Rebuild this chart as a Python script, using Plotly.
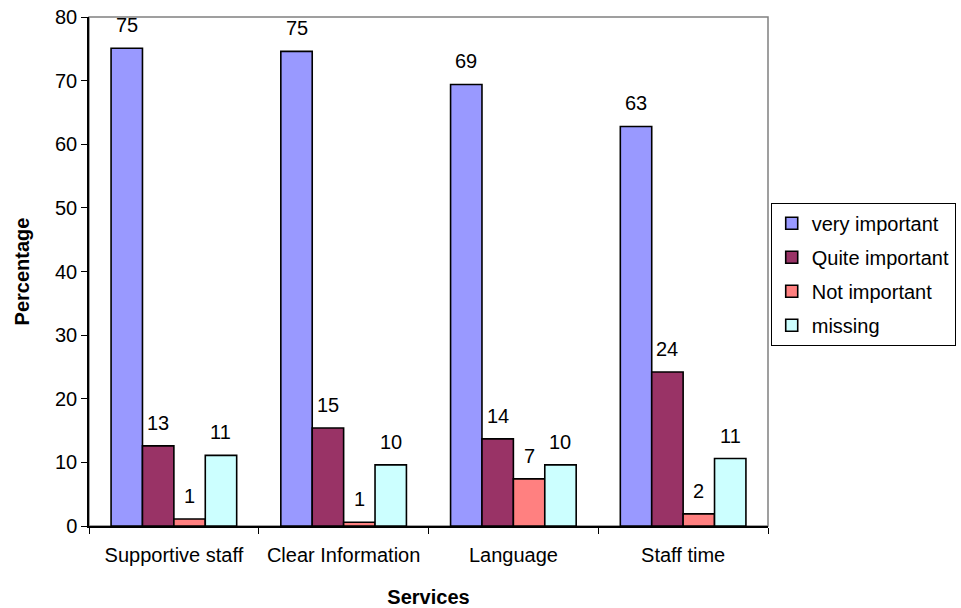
import plotly.graph_objects as go

categories = ["Supportive staff", "Clear Information", "Language", "Staff time"]
series_names = ["very important", "Quite important", "Not important", "missing"]
very_important = [75.1, 74.6, 69.4, 62.8]
quite_important = [12.6, 15.4, 13.7, 24.2]
not_important = [1.1, 0.6, 7.4, 1.9]
missing = [11.1, 9.6, 9.6, 10.6]
colors = ["#9999FF", "#993366", "#FF8080", "#CCFFFF"]
y_ticks = [0, 10, 20, 30, 40, 50, 60, 70, 80]

series_values = [very_important, quite_important, not_important, missing]

FONT = "Liberation Sans, Arial, sans-serif"
FS = 20
BARGAP = 0.26
n_series = len(series_values)
bar_w = (1 - BARGAP) / n_series

fig = go.Figure()
for k, (name, vals, col) in enumerate(zip(series_names, series_values, colors)):
    fig.add_trace(go.Bar(
        x=categories, y=vals, name=name,
        marker=dict(color=col, line=dict(color="#000000", width=1.6)),
        legendgroup=name,
        hoverinfo="x+y+name",
    ))
    # value labels above each bar, rounded to whole percent
    for i, v in enumerate(vals):
        fig.add_annotation(
            x=i + (k - (n_series - 1) / 2) * bar_w, y=v,
            xref="x", yref="y",
            text=str(int(v + 0.5)), showarrow=False,
            yanchor="bottom", yshift=10,
            font=dict(family=FONT, size=FS, color="#000000"),
        )

# plot-area frame (top and right edges in grey)
fig.add_shape(type="rect", xref="paper", yref="paper", x0=0, y0=0, x1=1, y1=1,
              line=dict(color="#808080", width=1.5), layer="below")

fig.update_layout(
    width=961, height=608,
    margin=dict(l=89, r=193, t=17, b=82, autoexpand=False),
    paper_bgcolor="#FFFFFF", plot_bgcolor="#FFFFFF",
    barmode="group", bargap=BARGAP, bargroupgap=0,
    font=dict(family=FONT, size=FS, color="#000000"),
    showlegend=True,
    legend=dict(
        x=1.004, xanchor="left", y=0.635, yanchor="top",
        bordercolor="#000000", borderwidth=1, bgcolor="#FFFFFF",
        font=dict(family=FONT, size=FS, color="#000000"),
        tracegroupgap=5,
    ),
    xaxis=dict(
        type="category", showgrid=False, zeroline=False, automargin=False,
        showline=True, linecolor="#000000", linewidth=1.5,
        ticks="outside", tickson="boundaries", ticklen=6, tickcolor="#000000",
        ticklabelstandoff=10,
        tickfont=dict(family=FONT, size=FS),
        title=dict(text="<b>Services</b>", font=dict(family=FONT, size=FS), standoff=25),
    ),
    yaxis=dict(
        range=[0, 80], tickvals=y_ticks, showgrid=False, zeroline=False, automargin=False,
        showline=True, linecolor="#000000", linewidth=1.5,
        ticks="outside", ticklen=6, tickcolor="#000000",
        tickfont=dict(family=FONT, size=FS),
        title=dict(text="<b>Percentage</b>", font=dict(family=FONT, size=FS), standoff=20),
    ),
)

fig.write_html("out.html")
